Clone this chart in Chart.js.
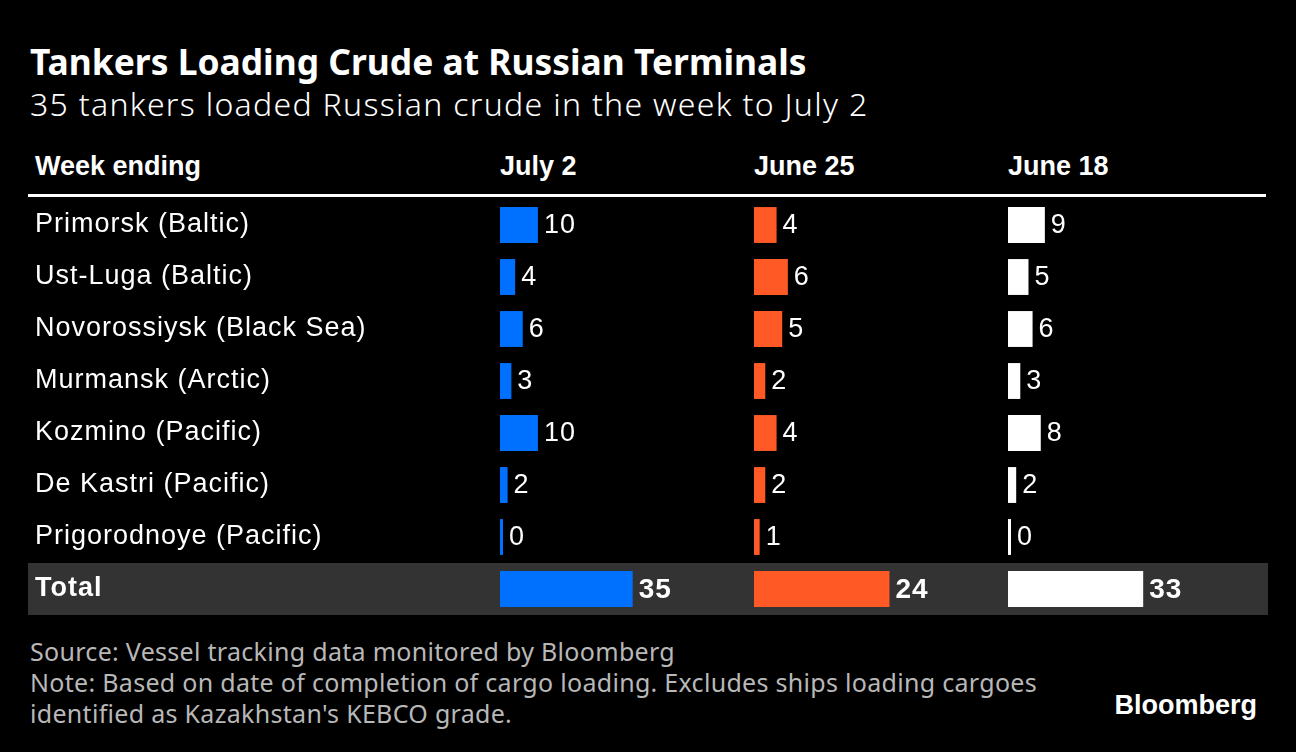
<!DOCTYPE html>
<html>
<head>
<meta charset="utf-8">
<script src="https://cdn.jsdelivr.net/npm/chart.js@4.4.1/dist/chart.umd.min.js"></script>
<style>
  body { margin: 0; background: #000; width: 1296px; height: 752px; overflow: hidden; position: relative; color: #fff; font-family: "Liberation Sans", Arial, sans-serif; }
  .t { position: absolute; white-space: nowrap; line-height: 1; }
  #title { left: 30px; top: 44px; font-family: "Noto Sans"; font-weight: 700; font-size: 35.4px; }
  #subtitle { left: 30px; top: 88px; font-family: "Noto Sans"; font-weight: 300; font-size: 32px; letter-spacing: 1.3px; }
  .head { top: 153px; font-weight: 700; font-size: 27px; }
  #rule { position: absolute; left: 28px; top: 194px; width: 1238px; height: 3px; background: #fff; }
  #wrap { position: absolute; left: 28px; top: 199px; width: 1240px; height: 416px; }
  #foot { position: absolute; left: 30px; top: 636px; font-family: "Noto Sans"; font-size: 25px; letter-spacing: 0.3px; line-height: 31px; color: #b8b8b8; }
  #logo { right: 39px; top: 692px; font-weight: 700; font-size: 27px; }
</style>
</head>
<body>
<div class="t" id="title">Tankers Loading Crude at Russian Terminals</div>
<div class="t" id="subtitle">35 tankers loaded Russian crude in the week to July 2</div>
<div class="t head" style="left:35px">Week ending</div>
<div class="t head" style="left:500px">July 2</div>
<div class="t head" style="left:754px">June 25</div>
<div class="t head" style="left:1008px">June 18</div>
<div id="rule"></div>
<div id="wrap"><canvas id="chartTankers"></canvas></div>
<div id="foot">Source: Vessel tracking data monitored by Bloomberg<br>Note: Based on date of completion of cargo loading. Excludes ships loading cargoes<br>identified as Kazakhstan's KEBCO grade.</div>
<div class="t" id="logo">Bloomberg</div>

<script>
// dados da tabela
const terminals = [
    'Primorsk (Baltic)', 'Ust-Luga (Baltic)', 'Novorossiysk (Black Sea)', 'Murmansk (Arctic)',
    'Kozmino (Pacific)', 'De Kastri (Pacific)', 'Prigorodnoye (Pacific)'
];
const weeks = ['July 2', 'June 25', 'June 18'];
const july2 = [10, 4, 6, 3, 10, 2, 0];
const june25 = [4, 6, 5, 2, 4, 2, 1];
const june18 = [9, 5, 6, 3, 8, 2, 0];
const totals = [35, 24, 33];

// cada coluna tem a sua propria escala
const axisMax = [67, 45, 62];
const colors = ['#0070ff', '#ff5a26', '#ffffff'];

const rowLabels = terminals.concat(['Total']);
const series = [july2, june25, june18];
const lastRow = rowLabels.length - 1;

const datasets = series.map((vals, i) => ({
    label: weeks[i],
    data: vals.concat([totals[i]]),
    xAxisID: 'x' + (i + 1),
    backgroundColor: colors[i],
    grouped: false,
    barPercentage: 0.69,
    categoryPercentage: 1,
    minBarLength: 3
}));

const scales = {
    y: {
        type: 'category',
        grid: { display: false },
        border: { display: false },
        ticks: {
            crossAlign: 'far',
            autoSkip: false,
            color: '#fff',
            font: (ctx) => ctx.index === lastRow
                ? { family: 'Liberation Sans', size: 27, weight: 'bold' }
                : { family: 'Liberation Sans', size: 27 }
        },
        afterFit: (scale) => {
            scale.width = 465;
            scale.paddingTop = 0;
            scale.paddingBottom = 0;
        }
    }
};
weeks.forEach((w, i) => {
    scales['x' + (i + 1)] = {
        type: 'linear',
        position: 'bottom',
        stack: 'cols',
        display: false,
        min: 0,
        max: axisMax[i]
    };
});

// faixa cinza do total
const totalBand = {
    id: 'totalBand',
    beforeDraw(chart) {
        chart.ctx.letterSpacing = '1px';
        const y = chart.scales.y;
        const band = y.height / rowLabels.length;
        const cy = y.getPixelForValue(lastRow);
        chart.ctx.save();
        chart.ctx.fillStyle = '#333333';
        chart.ctx.fillRect(0, cy - band / 2, chart.width, band);
        chart.ctx.restore();
    }
};

// numeros ao lado das barras
const valueLabels = {
    id: 'valueLabels',
    afterDatasetsDraw(chart) {
        const ctx = chart.ctx;
        ctx.save();
        ctx.fillStyle = '#fff';
        ctx.textBaseline = 'middle';
        ctx.textAlign = 'left';
        chart.data.datasets.forEach((ds, i) => {
            chart.getDatasetMeta(i).data.forEach((bar, j) => {
                ctx.font = j === lastRow ? 'bold 28px "Liberation Sans"' : '27px "Liberation Sans"';
                ctx.fillText(String(ds.data[j]), bar.x + 6, bar.y + 1);
            });
        });
        ctx.restore();
    }
};

new Chart(document.getElementById('chartTankers'), {
    type: 'bar',
    data: { labels: rowLabels, datasets: datasets },
    options: {
        indexAxis: 'y',
        responsive: true,
        maintainAspectRatio: false,
        animation: false,
        layout: { padding: { left: 7, right: 6, top: 0, bottom: 0 } },
        scales: scales,
        plugins: { legend: { display: false }, tooltip: { enabled: false } }
    },
    plugins: [totalBand, valueLabels]
});
</script>
</body>
</html>
